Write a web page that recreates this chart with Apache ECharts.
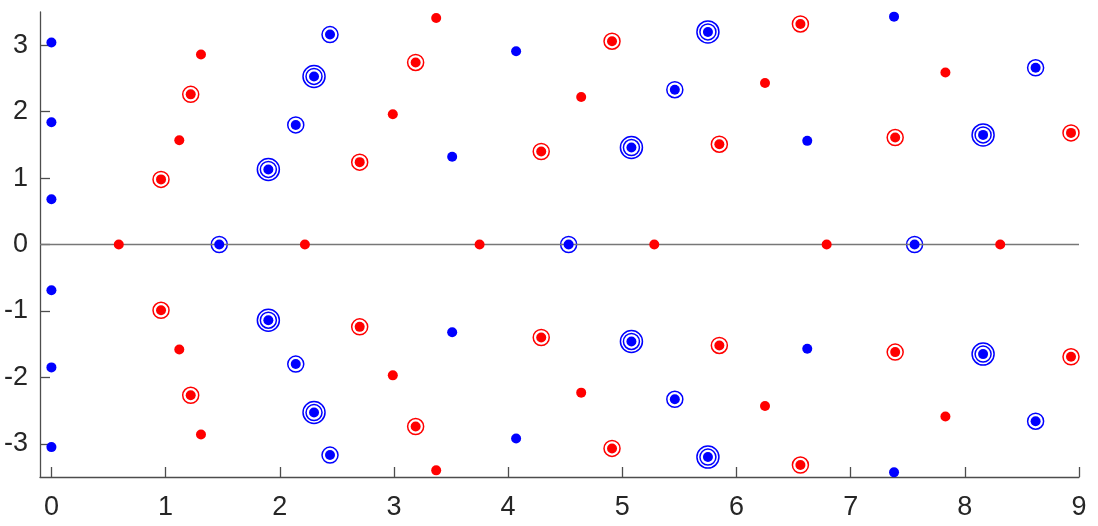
<!DOCTYPE html>
<html>
<head>
<meta charset="utf-8">
<script src="https://cdn.jsdelivr.net/npm/echarts@6/dist/echarts.min.js"></script>
<style>
  html, body { margin: 0; padding: 0; background: #fff; }
  #chart { width: 1098px; height: 526px; }
</style>
</head>
<body>
<div id="chart"></div>
<script>
// tick labels
var xTicks = [0, 1, 2, 3, 4, 5, 6, 7, 8, 9];
var yTicks = [-3, -2, -1, 0, 1, 2, 3];

// blue points: x, y and how many coincide (1 = dot, 2 = one ring, 3 = two rings)
var blueX = [0, 0, 0, 0, 0, 0,
	1.47, 1.90, 1.90, 2.14, 2.14, 2.30, 2.30, 2.44, 2.44,
	3.51, 3.51, 4.07, 4.07, 4.53,
	5.08, 5.08, 5.46, 5.46, 5.75, 5.75, 6.62, 6.62,
	7.38, 7.38, 7.56, 8.16, 8.16, 8.62, 8.62];
var blueY = [3.04, 1.84, 0.68, -0.69, -1.85, -3.05,
	0, 1.13, -1.14, 1.80, -1.80, 2.53, -2.53, 3.16, -3.17,
	1.32, -1.32, 2.91, -2.92, 0,
	1.46, -1.46, 2.33, -2.33, 3.20, -3.20, 1.56, -1.57,
	3.43, -3.43, 0, 1.65, -1.65, 2.66, -2.66];
var blueCount = [1, 1, 1, 1, 1, 1,
	2, 3, 3, 2, 2, 3, 3, 2, 2,
	1, 1, 1, 1, 2,
	3, 3, 2, 2, 3, 3, 1, 1,
	1, 1, 2, 3, 3, 2, 2];

// red points
var redX = [0.59, 0.96, 0.96, 1.12, 1.12, 1.22, 1.22, 1.31, 1.31,
	2.22, 2.70, 2.70, 2.99, 2.99, 3.19, 3.19, 3.37, 3.37,
	3.75, 4.29, 4.29, 4.64, 4.64, 4.91, 4.91,
	5.28, 5.85, 5.85, 6.25, 6.25, 6.56, 6.56,
	6.79, 7.39, 7.39, 7.83, 7.83, 8.31, 8.93, 8.93];
var redY = [0, 0.98, -0.99, 1.57, -1.58, 2.26, -2.27, 2.86, -2.86,
	0, 1.24, -1.24, 1.96, -1.97, 2.74, -2.74, 3.41, -3.40,
	0, 1.40, -1.40, 2.22, -2.23, 3.06, -3.07,
	0, 1.51, -1.52, 2.43, -2.43, 3.32, -3.32,
	0, 1.61, -1.62, 2.59, -2.59, 0, 1.68, -1.69];
var redCount = [1, 2, 2, 1, 1, 2, 2, 1, 1,
	1, 2, 2, 1, 1, 2, 2, 1, 1,
	1, 2, 2, 1, 1, 2, 2,
	1, 2, 2, 1, 1, 2, 2,
	1, 2, 2, 1, 1, 1, 2, 2];

function pick(xs, ys, cs, minCount) {
	var out = [];
	for (var i = 0; i < xs.length; i++) {
		if (cs[i] >= minCount) out.push([xs[i], ys[i]]);
	}
	return out;
}

function dotSeries(data, color) {
	return {
		type: 'scatter',
		data: data,
		symbol: 'circle',
		symbolSize: 10,
		itemStyle: { color: color, opacity: 1 },
		z: 5
	};
}

function ringSeries(data, color, size) {
	return {
		type: 'scatter',
		data: data,
		symbol: 'circle',
		symbolSize: size,
		itemStyle: { color: 'rgba(0,0,0,0)', borderColor: color, borderWidth: 1.5, opacity: 1 },
		z: 4
	};
}

var myChart = echarts.init(document.getElementById('chart'));

var axisFont = { fontFamily: 'Liberation Sans, Arial, sans-serif', fontSize: 27, color: '#262626' };

var option = {
	animation: false,
	backgroundColor: '#fff',
	grid: { left: 40, right: 19, top: 12, bottom: 49 },
	xAxis: {
		type: 'value',
		min: -0.1,
		max: 9,
		axisLine: { onZero: false, lineStyle: { color: '#4d4d4d', width: 1.3 } },
		axisTick: { inside: true, length: 10, customValues: xTicks, lineStyle: { color: '#4d4d4d', width: 1.3 } },
		axisLabel: Object.assign({ margin: 17, customValues: xTicks }, axisFont),
		splitLine: { show: false }
	},
	yAxis: {
		type: 'value',
		min: -3.5,
		max: 3.5,
		axisLine: { show: true, onZero: false, lineStyle: { color: '#4d4d4d', width: 1.3 } },
		axisTick: { show: true, inside: true, length: 10, customValues: yTicks, lineStyle: { color: '#4d4d4d', width: 1.3 } },
		axisLabel: Object.assign({ margin: 12, customValues: yTicks }, axisFont),
		splitLine: { show: false }
	},
	series: [
		// zero line
		{
			type: 'scatter',
			data: [],
			markLine: {
				silent: true,
				symbol: 'none',
				label: { show: false },
				lineStyle: { color: '#777', width: 1.3, type: 'solid' },
				data: [{ yAxis: 0 }]
			},
			z: 1
		},
		dotSeries(pick(redX, redY, redCount, 1), '#ff0000'),
		ringSeries(pick(redX, redY, redCount, 2), '#ff0000', 16),
		ringSeries(pick(redX, redY, redCount, 3), '#ff0000', 22),
		dotSeries(pick(blueX, blueY, blueCount, 1), '#0000ff'),
		ringSeries(pick(blueX, blueY, blueCount, 2), '#0000ff', 16),
		ringSeries(pick(blueX, blueY, blueCount, 3), '#0000ff', 22)
	]
};
myChart.setOption(option);
</script>
</body>
</html>
